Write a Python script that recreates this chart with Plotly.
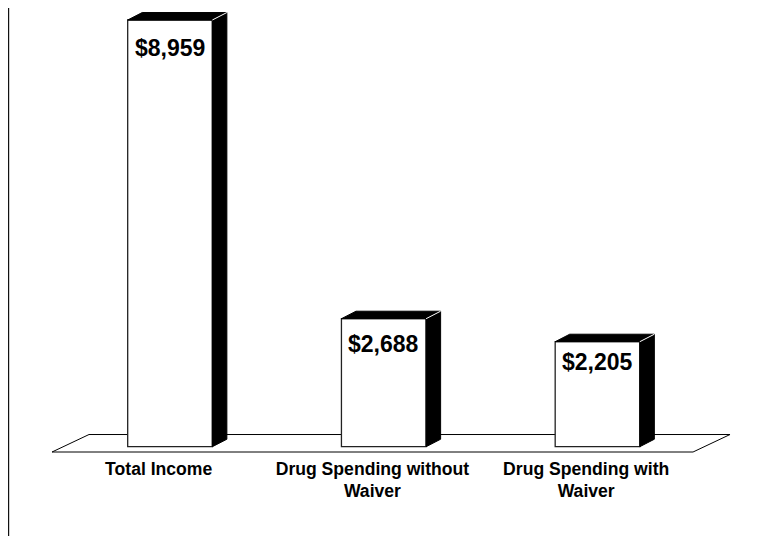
import plotly.graph_objects as go

categories = ["Total Income", "Drug Spending without<br>Waiver", "Drug Spending with<br>Waiver"]
values = [8959, 2688, 2205]
value_labels = ["$8,959", "$2,688", "$2,205"]

# geometry / style constants (page body has an 8px margin, so the figure is 8px smaller)
W, H = 756, 528
MB = 80
bar_w = 0.396
dx, dy = 0.068, 157          # 3D depth offset in axis units
x_range = [-0.758, 2.779]
y_range = [-195, 9211]
label_shift = [-28, -25, -20]
tick_offset = -0.053
font_fam = "Liberation Sans, Arial, sans-serif"

pos = list(range(len(categories)))

fig = go.Figure()

# front faces
fig.add_trace(go.Bar(
    x=pos, y=values, width=bar_w,
    marker=dict(color="white", line=dict(color="#222", width=1.3)),
    hoverinfo="skip", showlegend=False))

# top + side faces (black) and the white edge between them
for c, v in zip(pos, values):
    l, r = c - bar_w / 2, c + bar_w / 2
    xs = [l, l + dx, r + dx, r + dx, r, r, l]
    ys = [v, v + dy, v + dy, dy, 0, v, v]
    fig.add_trace(go.Scatter(x=xs, y=ys, mode="lines", fill="toself",
                             fillcolor="black", line=dict(color="black", width=1),
                             hoverinfo="skip", showlegend=False))
    fig.add_trace(go.Scatter(x=[r, r + dx], y=[v, v + dy], mode="lines",
                             line=dict(color="white", width=1),
                             hoverinfo="skip", showlegend=False))

# value labels
for c, v, t, s in zip(pos, values, value_labels, label_shift):
    fig.add_annotation(x=c, y=v, text=t, showarrow=False, yanchor="middle",
                       yshift=s,
                       font=dict(family=font_fam, size=23, color="black", weight="bold"))

# floor parallelogram
fl_front, fl_back = -111, 256
xl, xr = pos[0] - 0.552, pos[-1] + 0.447
fdx = 0.173
fig.add_shape(type="path", layer="below", xref="x", yref="y",
              path=f"M {xl},{fl_front} L {xl+fdx},{fl_back} L {xr+fdx},{fl_back} L {xr},{fl_front} Z",
              fillcolor="white", line=dict(color="black", width=1))

# left frame line
fig.add_shape(type="line", xref="paper", yref="paper",
              x0=0.6 / W, x1=0.6 / W, y0=-MB / (H - MB), y1=1.02,
              line=dict(color="#111", width=1.2))

fig.update_layout(
    width=W, height=H,
    margin=dict(l=0, r=0, t=0, b=MB),
    paper_bgcolor="white", plot_bgcolor="white",
    xaxis=dict(range=x_range, tickmode="array",
               tickvals=[p + tick_offset for p in pos], ticktext=categories,
               showgrid=False, zeroline=False, showline=False, ticks="",
               tickfont=dict(family=font_fam, size=17.6, color="black", weight="bold")),
    yaxis=dict(range=y_range, visible=False, showgrid=False, zeroline=False),
    showlegend=False,
)

fig.write_html("out.html")
